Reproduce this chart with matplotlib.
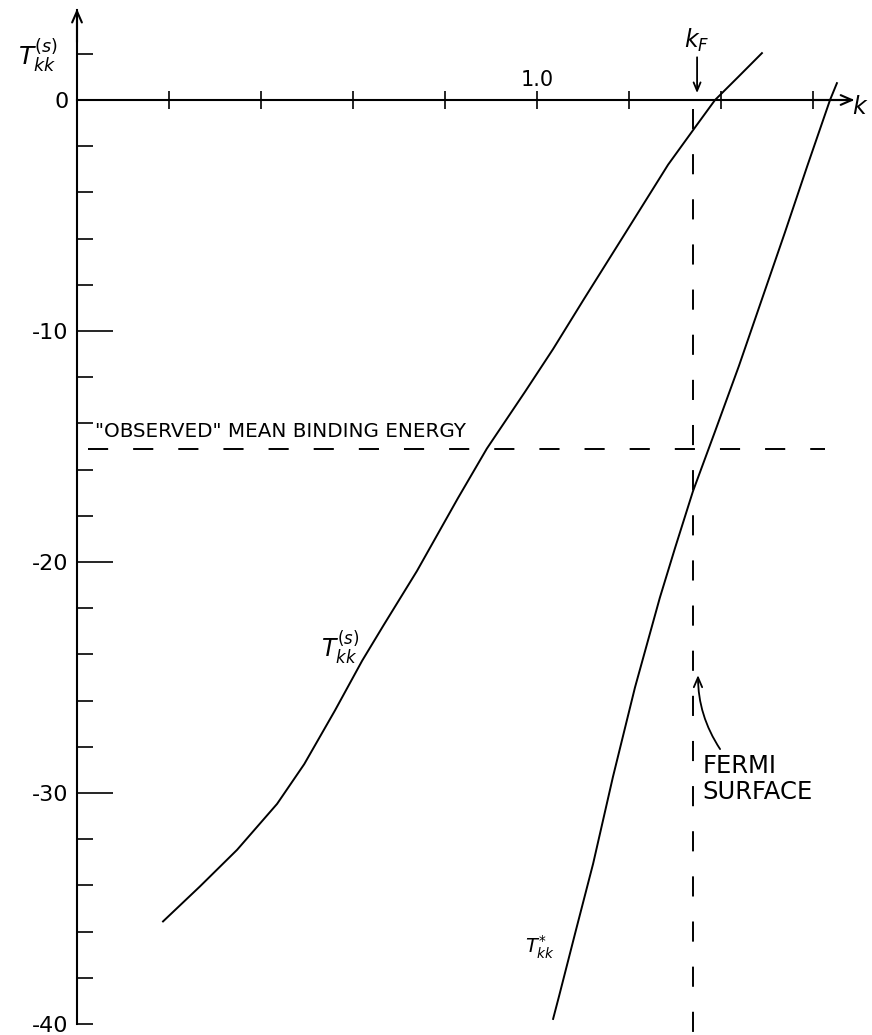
import matplotlib.pyplot as plt
import numpy as np

# T_kk^(s) curve
k_s = [0.187, 0.267, 0.348, 0.435, 0.494, 0.561, 0.620, 0.667, 0.739, 0.828,
       0.891, 0.974, 1.035, 1.102, 1.193, 1.285, 1.346, 1.387, 1.437, 1.489]
t_s = [-35.56, -34.05, -32.46, -30.47, -28.75, -26.42, -24.27, -22.72, -20.39,
       -17.24, -15.09, -12.63, -10.78, -8.62, -5.73, -2.80, -1.12, 0.0, 0.99,
       2.03]

# T_kk^* curve
k_star = [1.035, 1.048, 1.085, 1.122, 1.165, 1.213, 1.267, 1.300, 1.339, 1.387,
          1.439, 1.489, 1.539, 1.587, 1.637, 1.652]
t_star = [-39.78, -38.79, -35.91, -33.06, -29.31, -25.43, -21.55, -19.40,
          -16.94, -14.35, -11.51, -8.62, -5.73, -2.89, 0.0, 0.73]

k_fermi = 1.34
e_bind = -15.1

x_ticks = [0.2, 0.4, 0.6, 0.8, 1.0, 1.2, 1.4, 1.6]
y_major = [-30, -20, -10]
y_major_labels = ["-30", "-20", "-10"]
y_minor = [-40, -38, -36, -34, -32, -28, -26, -24, -22, -18, -16, -14, -12,
           -8, -6, -4, -2, 0, 2]

plt.rcParams["lines.scale_dashes"] = False

fig = plt.figure(figsize=(8.72, 10.35), dpi=100)
ax = fig.add_axes([0, 0, 1, 1])
ax.set_xlim(-77 / 460, (872 - 77) / 460)
ax.set_ylim(-(1035 - 100) / 23.1, 100 / 23.1)
ax.patch.set_visible(False)

# axes through the origin
for side in ["top", "right"]:
    ax.spines[side].set_visible(False)
ax.spines["left"].set_position(("data", 0))
ax.spines["bottom"].set_position(("data", 0))
ax.spines["left"].set_bounds(-40, 3.9)
ax.spines["bottom"].set_bounds(0, 1.685)
ax.spines["left"].set_linewidth(1.5)
ax.spines["bottom"].set_linewidth(1.5)

ax.set_xticks(x_ticks)
ax.tick_params(axis="x", direction="inout", length=13, width=1.2,
               labelbottom=False)
ax.set_yticks(y_major, labels=y_major_labels)
minor_labels = ["-40" if v == -40 else ("0" if v == 0 else "") for v in y_minor]
ax.set_yticks(y_minor, labels=minor_labels, minor=True)
ax.tick_params(axis="y", which="major", direction="in", length=26, width=1.2,
               labelsize=16, pad=6)
ax.tick_params(axis="y", which="minor", direction="in", length=11.5, width=1.2,
               labelsize=16, pad=6)

# axis arrows
arrow = dict(arrowstyle="->,head_width=0.35,head_length=0.8", lw=1.5,
             color="black", shrinkA=0, shrinkB=0)
ax.annotate("", xy=(0, 3.95), xytext=(0, 2.5), arrowprops=arrow)
ax.annotate("", xy=(1.69, 0), xytext=(1.6, 0), arrowprops=arrow)

ax.text(1.0, 0.86, "1.0", ha="center", va="center", fontsize=15)
ax.text(1.703, -0.3, "$k$", ha="center", va="center", fontsize=17)
ax.text(-0.085, 1.94, "$T^{(s)}_{kk}$", ha="center", va="center", fontsize=18)

# curves
ax.plot(k_s, t_s, color="black", lw=1.4)
ax.plot(k_star, t_star, color="black", lw=1.4)

# dashed guide lines
ax.plot([0.024, 1.626], [e_bind, e_bind], color="black", lw=1.4,
        dashes=(14.5, 18))
ax.plot([k_fermi, k_fermi], [-0.4, -41], color="black", lw=1.4,
        dashes=(14.5, 18))

ax.text(0.039, -14.35, '"OBSERVED" MEAN BINDING ENERGY', ha="left",
        va="center", fontsize=14.3)

# k_F marker
ax.text(1.348, 2.6, "$k_F$", ha="center", va="center", fontsize=17)
ax.annotate("", xy=(k_fermi + 0.008, 0.3), xytext=(k_fermi + 0.008, 1.85),
            arrowprops=dict(arrowstyle="->,head_width=0.25,head_length=0.6",
                            lw=1.3, color="black", shrinkA=0, shrinkB=0))

# curve labels
ax.text(0.572, -23.7, "$T^{(s)}_{kk}$", ha="center", va="center", fontsize=17)
ax.text(1.007, -36.7, "$T^{*}_{kk}$", ha="center", va="center", fontsize=14)

ax.text(1.359, -29.4, "FERMI\nSURFACE", ha="left", va="center",
        fontsize=17.5, linespacing=1.1)
ax.annotate("", xy=(1.350, -24.9), xytext=(1.398, -28.1),
            arrowprops=dict(arrowstyle="->,head_width=0.3,head_length=0.7",
                            lw=1.3, color="black", shrinkA=0, shrinkB=0,
                            connectionstyle="arc3,rad=-0.15"))

plt.savefig("out.png", dpi=100)
plt.close()
